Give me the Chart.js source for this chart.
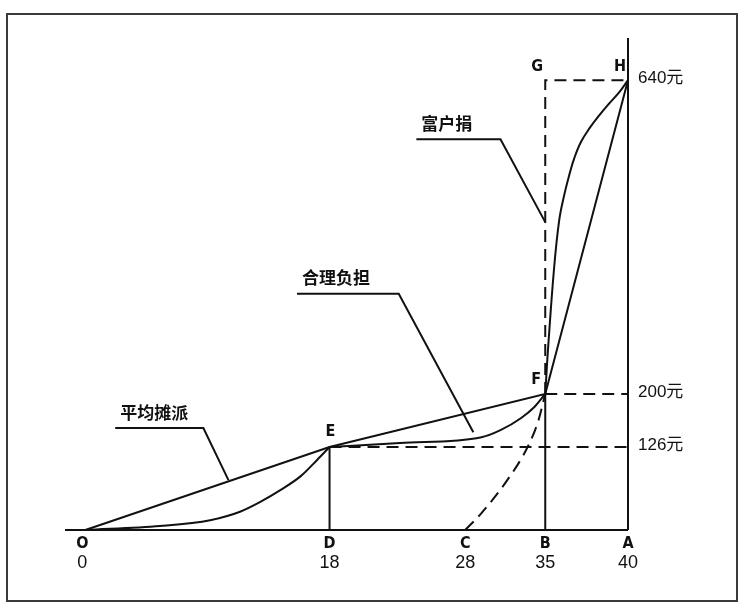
<!DOCTYPE html>
<html>
<head>
<meta charset="utf-8">
<script src="https://cdn.jsdelivr.net/npm/chart.js@4"></script>
<style>
  html, body { margin: 0; padding: 0; background: #fff; }
  #wrap { position: relative; width: 744px; height: 610px; }
  #frame { position: absolute; left: 6px; top: 13px; width: 728px; height: 585px; border: 2px solid #3a3a3a; }
  canvas { position: absolute; left: 0; top: 0; }
</style>
</head>
<body>
<div id="wrap">
  <div id="frame"></div>
  <canvas id="chart" width="744" height="610"></canvas>
</div>
<script>
// x ticks (position on the drawn axis, letter, value)
var xTickPos = [0, 18, 28, 33.9, 40]
var xTickLetters = ["O", "D", "C", "B", "A"]
var xTickLabels = ["0", "18", "28", "35", "40"]

// y levels at the right side
var yLevelPos = [118, 193.5, 640]
var yLevelLabels = ["126元", "200元", "640元"]

// 平均摊派 : straight lines O-E-F-H
var avgX = [0, 18, 33.9, 40]
var avgY = [0, 118, 193.5, 640]

// curve O -> E
var lowX = [0, 5.5, 9.2, 11.4, 12.9, 14.4, 15.9, 17.1, 18]
var lowY = [0, 5.7, 14, 26, 40, 57, 77, 100, 118]

// 合理负担 curve E -> F
var fairX = [18, 23.2, 29.2, 30.6, 32.1, 33.1, 33.9]
var fairY = [118, 123.8, 132, 142, 159, 175, 193.5]

// 富户捐 curve F -> H
var richX = [33.9, 34.1, 34.56, 34.93, 35.28, 35.67, 36.04, 36.53, 37.14, 37.88, 38.62, 39.36, 40]
var richY = [193.5, 256, 374.5, 441, 475, 505, 529, 552, 571, 590, 607, 623, 640]

// dashed curve C -> F
var cX = [28, 29.2, 31.1, 32.6, 33.4, 33.9]
var cY = [0, 24, 71, 118, 156, 193.5]

// point names E F G H
var pointNames = ["E", "F", "G", "H"]
var pointX = [18, 33.9, 33.9, 40]
var pointY = [118, 193.5, 640, 640]

// callouts: text, then leader start, elbow, end
var calloutTexts = ["平均摊派", "合理负担", "富户捐"]
var calloutPaths = [
    [[2.2, 145], [8.7, 145], [10.55, 71]],
    [[15.6, 336], [23.1, 336], [28.6, 139]],
    [[24.4, 556], [30.6, 556], [33.9, 438]]
]

var ink = "#111"

function toPoints(xs, ys){
    var pts = []
    for(var i = 0; i < xs.length; i++){
        pts.push({x: xs[i], y: ys[i]})
    }
    return pts
}

// smooth: 0 = straight, 1 = monotone, 2 = tension
function lineSet(pts, dashed, smooth){
    return {
        data: pts,
        showLine: true,
        borderColor: ink,
        borderWidth: 2,
        borderDash: dashed ? [12, 7] : [],
        pointRadius: 0,
        fill: false,
        clip: false,
        tension: smooth == 2 ? 0.4 : 0,
        cubicInterpolationMode: smooth == 1 ? "monotone" : "default"
    }
}

var xMin = -1.5
var xMax = 40
var yTop = 700

var datasets = [
    // axes
    lineSet([{x: xMin, y: 0}, {x: xMax, y: 0}], false, 0),
    lineSet([{x: xMax, y: 0}, {x: xMax, y: yTop}], false, 0),
    // verticals at D and B
    lineSet([{x: xTickPos[1], y: 0}, {x: xTickPos[1], y: yLevelPos[0]}], false, 0),
    lineSet([{x: xTickPos[3], y: 0}, {x: xTickPos[3], y: yLevelPos[1]}], false, 0),
    // dashed guides
    lineSet([{x: xTickPos[3], y: yLevelPos[1]}, {x: xTickPos[3], y: yLevelPos[2]}, {x: xMax, y: yLevelPos[2]}], true, 0),
    lineSet([{x: xTickPos[1], y: yLevelPos[0]}, {x: xMax, y: yLevelPos[0]}], true, 0),
    lineSet([{x: xTickPos[3], y: yLevelPos[1]}, {x: xMax, y: yLevelPos[1]}], true, 0),
    // curves
    lineSet(toPoints(avgX, avgY), false, 0),
    lineSet(toPoints(lowX, lowY), false, 1),
    lineSet(toPoints(fairX, fairY), false, 1),
    lineSet(toPoints(richX, richY), false, 2),
    lineSet(toPoints(cX, cY), true, 1)
]

var labelPlugin = {
    id: "labels",
    afterDatasetsDraw: function(chart){
        var ctx = chart.ctx
        var sx = chart.scales.x
        var sy = chart.scales.y
        var y0 = sy.getPixelForValue(0)
        ctx.save()
        ctx.fillStyle = ink
        ctx.textAlign = "center"
        ctx.textBaseline = "middle"

        // bottom letters and values
        for(var i = 0; i < xTickPos.length; i++){
            var px = sx.getPixelForValue(xTickPos[i])
            ctx.font = "bold 16px 'DejaVu Sans Condensed'"
            ctx.fillText(xTickLetters[i], px - (i == 0 ? 3 : 0), y0 + 14)
            ctx.font = "18px 'Liberation Sans'"
            ctx.fillText(xTickLabels[i], px - (i == 0 ? 3 : 0), y0 + 33)
        }

        // point names
        var offs = [[1, -15], [-9, -14], [-8, -13], [-8, -13]]
        ctx.font = "bold 16px 'DejaVu Sans Condensed'"
        for(var j = 0; j < pointNames.length; j++){
            ctx.fillText(pointNames[j], sx.getPixelForValue(pointX[j]) + offs[j][0], sy.getPixelForValue(pointY[j]) + offs[j][1])
        }

        // right side values
        ctx.textAlign = "left"
        ctx.font = "17px 'Liberation Sans', 'Noto Sans CJK SC'"
        var ax = sx.getPixelForValue(xMax)
        for(var k = 0; k < yLevelPos.length; k++){
            ctx.fillText(yLevelLabels[k], ax + 10, sy.getPixelForValue(yLevelPos[k]) - 2)
        }

        // callouts
        ctx.strokeStyle = ink
        ctx.lineWidth = 2
        ctx.font = "bold 17px 'Noto Sans CJK SC'"
        for(var m = 0; m < calloutTexts.length; m++){
            var path = calloutPaths[m]
            ctx.beginPath()
            for(var n = 0; n < path.length; n++){
                var qx = sx.getPixelForValue(path[n][0])
                var qy = sy.getPixelForValue(path[n][1])
                if(n == 0) ctx.moveTo(qx, qy)
                else ctx.lineTo(qx, qy)
            }
            ctx.stroke()
            ctx.fillText(calloutTexts[m], sx.getPixelForValue(path[0][0]) + 5, sy.getPixelForValue(path[0][1]) - 16)
        }
        ctx.restore()
    }
}

var chart = new Chart(document.getElementById("chart").getContext("2d"), {
    type: "scatter",
    data: { datasets: datasets },
    options: {
        responsive: false,
        animation: false,
        layout: { padding: { left: 65, right: 116, top: 38, bottom: 80 } },
        plugins: { legend: { display: false }, tooltip: { enabled: false } },
        scales: {
            x: { type: "linear", display: false, min: xMin, max: xMax },
            y: { type: "linear", display: false, min: 0, max: yTop }
        }
    },
    plugins: [labelPlugin]
})
</script>
</body>
</html>
